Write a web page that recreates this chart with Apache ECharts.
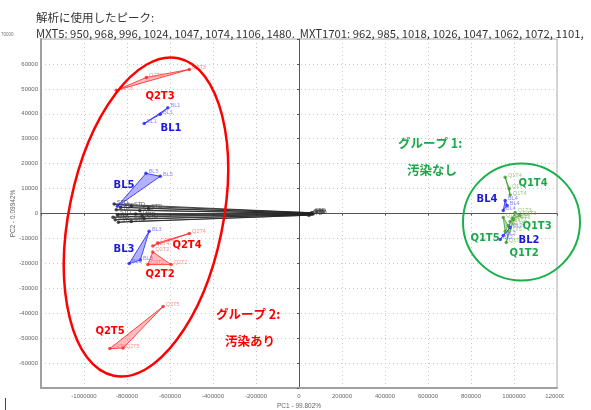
<!DOCTYPE html>
<html>
<head>
<meta charset="utf-8">
<script src="https://cdn.jsdelivr.net/npm/echarts@6/dist/echarts.min.js"></script>
<style>
  html, body { margin: 0; padding: 0; background: #fff; }
  #chart { width: 591px; height: 410px; }
</style>
</head>
<body>
<div id="chart"></div>
<script>
// Axis ranges (PC1 / PC2 scores)
const pc1Range = [-1200000, 1200000];
const pc1Step = 200000;
const pc2Range = [-70000, 70000];
const pc2Step = 10000;

// Score coordinates [PC1, PC2] for each sample's three replicates
// Contaminated group (left)
const Q2T3 = [[-850000, 49400], [-710000, 54600], [-510000, 57800]];
const BL1  = [[-720000, 36100], [-645000, 39800], [-610000, 42400]];
const BL5  = [[-845000, 2900], [-712000, 16100], [-645000, 14900]];
const BL3  = [[-697000, -7100], [-790000, -20100], [-738000, -18700]];
const Q2T4 = [[-510000, -8000], [-680000, -13000], [-657000, -11800]];
const Q2T2 = [[-680000, -15400], [-703000, -20500], [-595000, -20500]];
const Q2T5 = [[-632000, -37300], [-880000, -54200], [-818000, -54000]];
// Standards near the PC2 = 0 line
const STD1 = [[-860000, 3800], [-780000, 3000], [60000, 300]];
const STD2 = [[-850000, 1500], [-740000, 1200], [55000, 0]];
const STD3 = [[-845000, -500], [-760000, -200], [65000, -200]];
const STD4 = [[-855000, -2500], [-720000, -2000], [50000, -500]];
const STD5 = [[-840000, -3500], [-780000, -3200], [45000, -700]];
const STD6 = [[-830000, 2500], [-700000, 2000], [62000, 150]];
const STD7 = [[-865000, -1500], [-730000, -1000], [58000, -350]];
// Clean group (right)
const Q1T4 = [[959000, 14500], [978000, 10000], [982000, 7400]];
const BL4  = [[959000, 5200], [968000, 3200], [950000, 1200]];
const Q1T3 = [[1005000, 400], [1028000, -800], [992000, -2000]];
const Q1T2 = [[964000, -11600], [982000, -3200], [1000000, -2400]];
const Q1T5 = [[959000, -7200], [973000, -4800], [950000, -1600]];
const BL2  = [[936000, -10400], [950000, -8800], [982000, -5600]];

const RED = { line: '#ff2020', fill: 'rgba(255,60,60,0.35)', label: '#ff7070', big: '#ff0000' };
const BLUE = { line: '#2020ff', fill: 'rgba(60,60,255,0.4)', label: '#6a6aff', big: '#1a1ad8' };
const GREEN = { line: '#3a9a2a', fill: 'rgba(60,160,60,0.35)', label: '#7cb85a', big: '#1aa84a' };
const BLACK = { line: '#222222', fill: 'rgba(60,60,60,0.35)', label: '#333333', big: '#000' };

const groups = [
  ['STD', STD1, BLACK], ['STD', STD2, BLACK], ['STD', STD3, BLACK],
  ['STD', STD4, BLACK], ['STD', STD5, BLACK], ['STD', STD6, BLACK], ['STD', STD7, BLACK],
  ['Q2T3', Q2T3, RED], ['BL1', BL1, BLUE], ['BL5', BL5, BLUE], ['BL3', BL3, BLUE],
  ['Q2T4', Q2T4, RED], ['Q2T2', Q2T2, RED], ['Q2T5', Q2T5, RED],
  ['Q1T4', Q1T4, GREEN], ['BL4', BL4, BLUE], ['Q1T3', Q1T3, GREEN],
  ['Q1T2', Q1T2, GREEN], ['Q1T5', Q1T5, GREEN], ['BL2', BL2, BLUE]
];

const series = [];
groups.forEach(([name, pts, c]) => {
  // replicate triangle
  series.push({
    type: 'custom',
    data: pts,
    silent: true,
    z: 2,
    renderItem: (params, api) => {
      if (params.dataIndex !== 0) return null;
      const points = pts.map(p => api.coord(p));
      return {
        type: 'polygon',
        shape: { points },
        style: { fill: c.fill, stroke: c.line, lineWidth: 0.8 }
      };
    }
  });
  // replicate points with their small labels
  series.push({
    type: 'scatter',
    data: pts,
    symbol: 'circle',
    symbolSize: 3.5,
    silent: true,
    z: 3,
    itemStyle: { color: c.line },
    label: {
      show: true, formatter: name, position: 'right', distance: 1,
      offset: [0, -2], fontSize: 5.5, color: c.label, fontFamily: 'Liberation Sans'
    }
  });
});

const bigFont = 'bold 10px "DejaVu Sans"';
const bigLabel = (text, x, y, color) => ({
  type: 'text', x, y, z: 10, silent: true,
  style: { text, fill: color, font: bigFont, align: 'center', verticalAlign: 'middle' }
});
const jpFont = 'bold 12.5px "Noto Sans CJK JP"';
const jpLabel = (text, x, y, color) => ({
  type: 'text', x, y, z: 10, silent: true,
  style: { text, fill: color, font: jpFont, align: 'left', verticalAlign: 'middle' }
});

const chart = echarts.init(document.getElementById('chart'), null, { renderer: 'canvas' });

const gridLine = { show: true, lineStyle: { color: '#c8c8c8', type: [1, 3], width: 1 } };
const tickFont = { fontSize: 6, color: '#666', fontFamily: 'Liberation Sans' };

chart.setOption({
  animation: false,
  backgroundColor: '#fff',
  grid: {
    left: 41, right: 34, top: 39, bottom: 22,
    containLabel: false, outerBoundsMode: 'none',
    show: true, borderColor: '#aaa', borderWidth: 1
  },
  xAxis: [{
    type: 'value', min: pc1Range[0], max: pc1Range[1], interval: pc1Step,
    position: 'bottom',
    name: 'PC1 - 99.802%', nameLocation: 'middle', nameGap: 15, nameMoveOverlap: false,
    nameTextStyle: { fontSize: 6.5, color: '#666', fontFamily: 'Liberation Sans' },
    axisLine: { onZero: false, lineStyle: { color: '#a0a0a0', width: 2 } },
    axisTick: { show: false },
    axisLabel: Object.assign({ margin: 5, formatter: v => (v === pc1Range[0] ? '' : String(v)) }, tickFont),
    splitLine: gridLine
  }, {
    type: 'value', min: pc1Range[0], max: pc1Range[1], interval: pc1Step,
    position: 'bottom',
    axisLine: { onZero: true, onZeroAxisIndex: 0, lineStyle: { color: '#555', width: 1 } },
    axisTick: { show: true, length: 2, lineStyle: { color: '#555' } },
    axisLabel: { show: false },
    splitLine: { show: false }
  }],
  yAxis: [{
    type: 'value', min: pc2Range[0], max: pc2Range[1], interval: pc2Step,
    position: 'left',
    name: 'PC2 - 0.09942%', nameLocation: 'middle', nameGap: 24, nameRotate: 90, nameMoveOverlap: false,
    nameTextStyle: { fontSize: 6.5, color: '#666', fontFamily: 'Liberation Sans' },
    axisLine: { onZero: false, lineStyle: { color: '#a0a0a0', width: 2 } },
    axisTick: { show: false },
    axisLabel: Object.assign({ margin: 3, formatter: v => (Math.abs(v) === pc2Range[1] ? '' : String(v)) }, tickFont),
    splitLine: gridLine
  }, {
    type: 'value', min: pc2Range[0], max: pc2Range[1], interval: pc2Step,
    position: 'left',
    axisLine: { onZero: true, onZeroAxisIndex: 0, lineStyle: { color: '#555', width: 1 } },
    axisTick: { show: true, length: 2, lineStyle: { color: '#555' } },
    axisLabel: { show: false },
    splitLine: { show: false }
  }],
  series,
  graphic: [
    { type: 'text', x: 36, y: 18, silent: true,
      style: { text: '解析に使用したピーク:', fill: '#333', font: '11.5px "Noto Sans CJK JP"', align: 'left', verticalAlign: 'middle' } },
    { type: 'text', x: 36, y: 34, silent: true,
      style: { text: 'MXT5: 950, 968, 996, 1024, 1047, 1074, 1106, 1480.  MXT1701: 962, 985, 1018, 1026, 1047, 1062, 1072, 1101,', fill: '#333', font: '11.3px "Noto Sans CJK JP"', align: 'left', verticalAlign: 'middle' } },
    { type: 'text', x: 1, y: 35, silent: true,
      style: { text: '70000', fill: '#777', font: '4.5px "Liberation Sans"', align: 'left', verticalAlign: 'middle' } },
    // group outlines
    { type: 'ellipse', x: 146, y: 217, rotation: -0.2, z: 5, silent: true,
      shape: { cx: 0, cy: 0, rx: 77, ry: 162 },
      style: { fill: 'none', stroke: '#ff0000', lineWidth: 2.5 } },
    { type: 'circle', z: 5, silent: true,
      shape: { cx: 521.5, cy: 222, r: 58.5 },
      style: { fill: 'none', stroke: '#18b04a', lineWidth: 2 } },
    // group names
    bigLabel('Q2T3', 160, 96, RED.big),
    bigLabel('BL1', 171, 128, BLUE.big),
    bigLabel('BL5', 124, 185, BLUE.big),
    bigLabel('BL3', 124, 249, BLUE.big),
    bigLabel('Q2T4', 187, 245, RED.big),
    bigLabel('Q2T2', 160, 274, RED.big),
    bigLabel('Q2T5', 110, 331, RED.big),
    bigLabel('Q1T4', 533, 183, GREEN.big),
    bigLabel('BL4', 487, 199, BLUE.big),
    bigLabel('Q1T3', 537, 226, GREEN.big),
    bigLabel('Q1T5', 485, 238, GREEN.big),
    bigLabel('BL2', 529, 240, BLUE.big),
    bigLabel('Q1T2', 524, 253, GREEN.big),
    jpLabel('グループ 1:', 398, 143, '#1aa84a'),
    jpLabel('汚染なし', 407, 170, '#1aa84a'),
    jpLabel('グループ 2:', 216, 314, '#ff0000'),
    jpLabel('汚染あり', 225, 341, '#ff0000'),
    // right edge of the plot image
    { type: 'rect', z: 20, silent: true, shape: { x: 564, y: 391, width: 27, height: 19 }, style: { fill: '#fff' } },
    { type: 'line', z: 20, silent: true, shape: { x1: 5.5, y1: 398, x2: 5.5, y2: 410 }, style: { stroke: '#3030ff', lineWidth: 1 } }
  ]
});
</script>
</body>
</html>
